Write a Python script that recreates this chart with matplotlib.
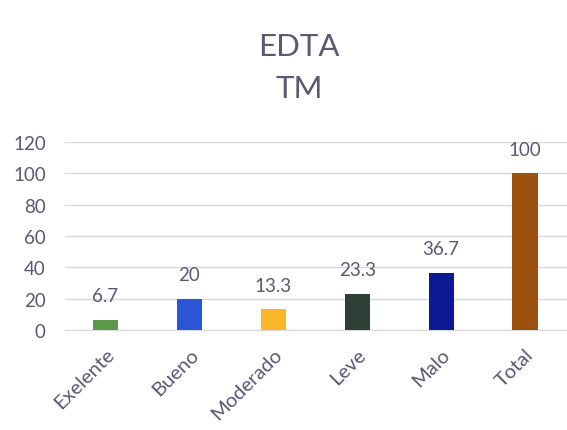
import numpy as np
import matplotlib
matplotlib.use("Agg")
import matplotlib.pyplot as plt

categories = ["Exelente", "Bueno", "Moderado", "Leve", "Malo", "Total"]
values = [6.7, 20, 13.3, 23.3, 36.7, 100]
value_labels = ["6.7", "20", "13.3", "23.3", "36.7", "100"]
bar_colors = ["#5b9a4a", "#2b55d4", "#fdb52a", "#2e4038", "#0b1a94", "#9c520e"]
y_ticks = [0, 20, 40, 60, 80, 100, 120]

TXT = "#5c5874"
plt.rcParams["font.family"] = ["Lato", "DejaVu Sans"]

fig = plt.figure(figsize=(5.67, 4.31), dpi=100)
ax = fig.add_axes([0.115, 0.232, 0.885, 0.436])

x = np.arange(len(categories))
ax.bar(x, values, width=0.3, color=bar_colors, zorder=3)
for xi, v, lab in zip(x, values, value_labels):
    ax.annotate(lab, (xi, v), xytext=(0, 11), textcoords="offset points",
                ha="center", va="bottom", fontsize=13.5, color=TXT)

ax.set_xlim(-0.48, 5.5)
ax.set_ylim(0, 120)
ax.set_yticks(y_ticks)
ax.yaxis.grid(True, color="#d9d9d9", lw=1, zorder=0)
for s in ["top", "right", "left"]:
    ax.spines[s].set_visible(False)
ax.spines["bottom"].set_color("#d9d9d9")
ax.tick_params(length=0, colors=TXT, labelsize=13.5)
ax.tick_params(axis="y", pad=14)
ax.set_xticks(x)
ax.set_xticklabels(categories, rotation=45, ha="right", rotation_mode="anchor",
                   fontsize=14.5)
ax.tick_params(axis="x", pad=11)

fig.text(0.527, 0.843, "EDTA\nTM", ha="center", va="center", fontsize=22.5,
         color=TXT, linespacing=1.6)

fig.savefig("out.png", dpi=100)
